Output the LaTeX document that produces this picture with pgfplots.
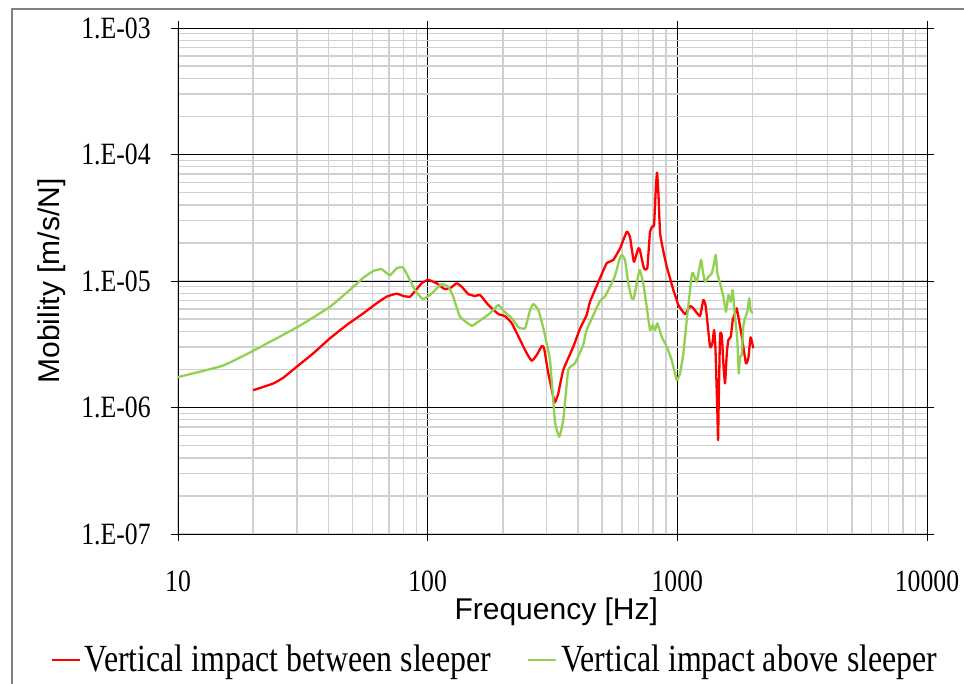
\documentclass[border=0pt]{standalone}
\usepackage{fontspec}
\setmainfont{Liberation Serif}
\newfontfamily\cfont[FakeStretch=0.83]{Liberation Serif}
\newfontfamily\afont{Liberation Sans}
\usepackage{pgfplots}
\pgfplotsset{compat=1.18}
\definecolor{redc}{HTML}{FF0000}
\definecolor{greenc}{HTML}{92D050}
\definecolor{gridc}{HTML}{D0D0D0}
\begin{document}
\begin{tikzpicture}
\useasboundingbox (-89pt,-75pt) rectangle (393pt,267pt);
\draw[gray, line width=0.75pt] (-83pt,-120pt) -- (-83pt,262.5pt) -- (450pt,262.5pt);
\begin{axis}[
  scale only axis, width=374.5pt, height=253pt,
  xmode=log, ymode=log,
  xmin=10, xmax=10000, ymin=1e-7, ymax=1e-3,
  xtick={10,100,1000,10000}, xticklabels={10,100,1000,10000},
  ytick={1e-7,1e-6,1e-5,1e-4,1e-3},
  yticklabels={1.E-07,1.E-06,1.E-05,1.E-04,1.E-03},
  ticklabel style={font=\cfont\fontsize{15.5}{17}\selectfont, inner sep=0pt},
  xticklabel style={yshift=-14.5pt},
  yticklabel style={xshift=-10pt},
  tick align=center, major tick length=7pt, minor tick length=0pt,
  tick style={black, line width=0.5pt},
  grid=both,
  major grid style={black, line width=0.5pt},
  minor grid style={gridc, line width=0.7pt},
  axis line style={black, line width=0.5pt},
  xlabel={Frequency [Hz]}, ylabel={Mobility [m/s/N]},
  label style={font=\afont\fontsize{15}{17}\selectfont, inner sep=0pt},
  xlabel style={at={(axis description cs:0.505,-0.1245)}, anchor=north},
  ylabel style={at={(axis description cs:-0.1883,0.5)}, anchor=north},
  legend style={at={(axis description cs:-0.1709,-0.249)}, anchor=west,
    draw=none, fill=none, inner sep=0pt,
    font=\cfont\fontsize{19.2}{21}\selectfont,
    /tikz/every even column/.append style={column sep=16pt},
    nodes={inner xsep=2pt, inner ysep=0pt}},
  legend columns=2,
  legend cell align=left,
  legend image code/.code={\draw[#1] (0pt,0pt) -- (14pt,0pt);},
]
\addplot[redc, line width=1.15pt, smooth, tension=0.25, line join=round] coordinates {
(20,1.37e-6) (24.1,1.55e-6) (26.4,1.72e-6) (29.9,2.10e-6) (34.8,2.68e-6)
(40.6,3.52e-6) (47.4,4.49e-6) (55.2,5.55e-6) (62.5,6.67e-6) (68.5,7.52e-6)
(75.1,7.95e-6) (79.9,7.61e-6) (84.9,7.52e-6) (88.9,8.3e-6) (93.2,9.29e-6)
(96,9.8e-6) (100.6,1.02e-5) (108.7,9.59e-6) (115.6,8.75e-6) (117.2,8.65e-6)
(122.8,8.75e-6) (130.6,9.59e-6) (136.8,9.02e-6) (145.4,7.89e-6) (154.7,7.61e-6)
(162.2,7.75e-6) (175.1,6.46e-6) (191.9,5.48e-6) (204,5.28e-6) (217.3,4.63e-6)
(234.5,3.42e-6) (249.5,2.68e-6) (261.2,2.34e-6) (273.5,2.60e-6) (286.4,3.06e-6)
(292.6,2.94e-6) (304.3,1.86e-6) (318.6,1.22e-6) (323.6,1.10e-6) (333.5,1.29e-6)
(349.3,1.98e-6) (383.2,3.03e-6) (407.5,4.2e-6) (433.3,5.38e-6) (446.9,6.86e-6)
(489.9,1.05e-5) (521,1.38e-5) (554.2,1.47e-5) (589.5,1.81e-5) (627,2.45e-5)
(646,2.24e-5) (670,1.42e-5) (697,1.81e-5) (708,1.76e-5) (735,1.26e-5)
(758,1.26e-5) (777.5,2.45e-5) (797,2.72e-5) (807,2.77e-5) (822,5.91e-5)
(830,7.18e-5) (840,4.93e-5) (853,2.4e-5) (880,1.7e-5) (907,1.30e-5)
(935,1.05e-5) (964,8.49e-6) (994,7.08e-6) (1009,6.46e-6) (1073,5.48e-6)
(1124,6.34e-6) (1159,6.09e-6) (1232,5.28e-6) (1271,7.08e-6) (1300,6.27e-6)
(1352,3.03e-6) (1381,3.21e-6) (1404,4.10e-6) (1421,2.94e-6) (1447,9.0e-7)
(1456,5.53e-7) (1466,1.22e-6) (1483,3.74e-6) (1507,3.74e-6) (1529,2.23e-6)
(1553,1.55e-6) (1578,2.68e-6) (1601,3.42e-6) (1637,3.63e-6) (1667,4.92e-6)
(1702,5.55e-6) (1729,6.09e-6) (1756,5.22e-6) (1794,4.10e-6) (1838,3.03e-6)
(1884,2.23e-6) (1925,2.45e-6) (1966,3.59e-6) (2015,2.94e-6)
};
\addlegendentry{Vertical impact between sleeper}
\addplot[greenc, line width=1.15pt, smooth, tension=0.25, line join=round] coordinates {
(10,1.74e-6) (15.1,2.14e-6) (20.3,2.85e-6) (30.3,4.36e-6) (40.6,6.26e-6)
(50.4,9.0e-6) (55.2,1.06e-5) (60.6,1.2e-5) (65.4,1.24e-5) (70.6,1.11e-5)
(75.1,1.26e-5) (80,1.27e-5) (88.9,8.49e-6) (95.5,7.21e-6) (102.1,7.75e-6)
(113.7,9.42e-6) (120.9,9.02e-6) (126.6,7.52e-6) (134.7,5.22e-6) (150,4.43e-6)
(159.5,4.77e-6) (177.7,5.55e-6) (191.9,6.46e-6) (201.1,5.82e-6) (217.3,5.07e-6)
(230.9,4.31e-6) (245.6,4.23e-6) (257.2,5.90e-6) (265.1,6.58e-6) (277.5,5.90e-6)
(290.6,4.23e-6) (309,2.37e-6) (323.6,7.72e-7) (336.7,5.88e-7) (349.3,7.96e-7)
(365.6,1.98e-6) (388.8,2.23e-6) (419.9,3.12e-6) (433.3,4.10e-6) (489.9,6.95e-6)
(512.6,7.51e-6) (545.6,9.59e-6) (562.8,1.10e-5) (585.6,1.47e-5) (598.8,1.61e-5)
(617.2,1.47e-5) (636.1,9.59e-6) (656.4,7.30e-6) (669.6,7.30e-6) (697.7,1.11e-5)
(708.4,1.22e-5) (730.6,9.59e-6) (753.7,6.27e-6) (777.5,4.10e-6) (796.9,4.49e-6)
(814.1,4.10e-6) (831.8,4.63e-6) (865.8,3.63e-6) (906.6,3.03e-6) (949.3,2.37e-6)
(994.3,1.65e-6) (1025,1.86e-6) (1057,2.68e-6) (1091,4.92e-6) (1142,1.11e-5)
(1159,1.15e-5) (1196,9.87e-6) (1245,1.47e-5) (1265,1.19e-5) (1292,9.87e-6)
(1332,1.08e-5) (1374,1.15e-5) (1404,1.38e-5) (1426,1.61e-5) (1447,1.15e-5)
(1483,9.59e-6) (1529,7.51e-6) (1567,5.71e-6) (1601,7.75e-6) (1636,6.86e-6)
(1667,8.49e-6) (1702,5.22e-6) (1739,3.42e-6) (1762,1.86e-6) (1783,2.52e-6)
(1811,2.60e-6) (1838,4.36e-6) (1867,5.07e-6) (1906,5.71e-6) (1941,7.30e-6)
(1966,5.90e-6) (2003,5.55e-6)
};
\addlegendentry{Vertical impact above sleeper}
\end{axis}
\end{tikzpicture}
\end{document}
